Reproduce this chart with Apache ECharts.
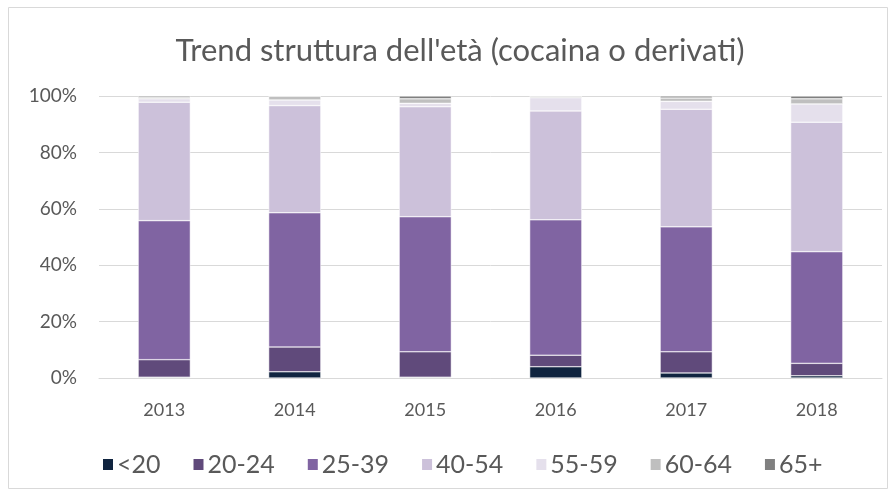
<!DOCTYPE html>
<html>
<head>
<meta charset="utf-8">
<script src="https://cdn.jsdelivr.net/npm/echarts@6/dist/echarts.min.js"></script>
<style>
  html, body { margin: 0; padding: 0; background: #fff; }
  #agechart { width: 896px; height: 496px; }
</style>
</head>
<body>
<div id="agechart"></div>
<script>
// anni e quote (%) per fascia d'età
const years = ["2013", "2014", "2015", "2016", "2017", "2018"];
const under20 = [0.3, 2.2, 0.3, 4.0, 1.8, 0.8];
const age20_24 = [6.2, 8.8, 9.0, 4.1, 7.5, 4.4];
const age25_39 = [49.3, 47.6, 47.9, 48.0, 44.3, 39.6];
const age40_54 = [42.0, 38.0, 39.0, 38.6, 41.7, 45.9];
const age55_59 = [1.2, 2.0, 1.2, 4.7, 2.8, 6.5];
const age60_64 = [0.5, 1.4, 1.6, 0.6, 1.2, 1.8];
const age65plus = [0.5, 0.0, 1.0, 0.0, 0.7, 1.0];

const groups = [
  { name: "<20", data: under20, color: "#10243f" },
  { name: "20-24", data: age20_24, color: "#604a7b" },
  { name: "25-39", data: age25_39, color: "#8064a2" },
  { name: "40-54", data: age40_54, color: "#ccc1da" },
  { name: "55-59", data: age55_59, color: "#e5e0ec" },
  { name: "60-64", data: age60_64, color: "#bfbfbf" },
  { name: "65+", data: age65plus, color: "#808080" }
];

const font = "Lato, 'Open Sans', sans-serif";
const myChart = echarts.init(document.getElementById("agechart"));

const setSeries = () => {
  return groups.map((g) => {
    return {
      name: g.name,
      type: "bar",
      stack: "Total",
      barWidth: "40%",
      itemStyle: { color: g.color, borderColor: "#ffffff", borderWidth: 0.5 },
      data: g.data
    };
  });
};

const option = {
  animation: false,
  textStyle: { fontFamily: font },
  graphic: [{
    type: "rect",
    shape: { x: 8.5, y: 7.5, width: 879, height: 481 },
    style: { fill: "none", stroke: "#d9d9d9", lineWidth: 1 },
    silent: true
  }],
  title: {
    text: "Trend struttura dell'età (cocaina o derivati)",
    left: 455,
    top: 30,
    textAlign: "center",
    textStyle: { fontFamily: font, fontSize: 31, fontWeight: "normal", color: "#595959" }
  },
  legend: {
    left: 96,
    top: 447,
    itemWidth: 12,
    itemHeight: 13,
    itemGap: 31,
    icon: "rect",
    textStyle: { fontFamily: font, fontSize: 25, color: "#595959", padding: [0, 0, 0, -2] },
    data: groups.map((g) => g.name)
  },
  grid: { left: 99, right: 14, top: 96, bottom: 118 },
  xAxis: {
    type: "category",
    data: years,
    axisLine: { lineStyle: { color: "#d9d9d9" } },
    axisTick: { show: false },
    axisLabel: { color: "#595959", fontSize: 18, margin: 23, fontFamily: font }
  },
  yAxis: {
    type: "value",
    min: 0,
    max: 100,
    interval: 20,
    axisLine: { show: false },
    axisTick: { show: false },
    splitLine: { lineStyle: { color: "#d9d9d9" } },
    axisLabel: { color: "#595959", fontSize: 19, margin: 22, fontFamily: font, formatter: "{value}%" }
  },
  series: setSeries()
};

myChart.setOption(option);
</script>
</body>
</html>
